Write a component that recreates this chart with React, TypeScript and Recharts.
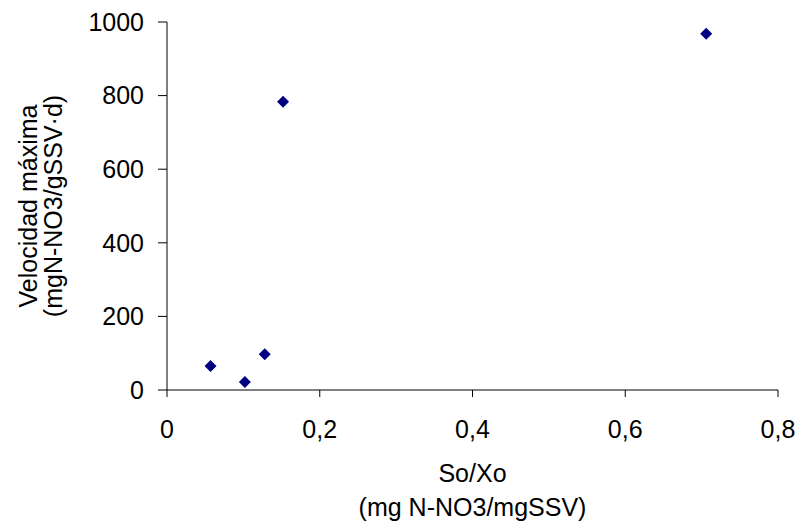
import { ScatterChart, Scatter, XAxis, YAxis, Label } from 'recharts'

const soXo = [0.057, 0.102, 0.128, 0.152, 0.706]
const velocidad = [65, 22, 97, 783, 968]
const xTicks = [0, 0.2, 0.4, 0.6, 0.8]
const yTicks = [0, 200, 400, 600, 800, 1000]

const data = soXo.map((x, i) => ({ x, y: velocidad[i] }))

const font = '"Liberation Sans", Arial, sans-serif'

const Diamond = (props: any) => {
    const { cx, cy } = props
    const r = 6
    return (
        <polygon
            points={`${cx},${cy - r} ${cx + r},${cy} ${cx},${cy + r} ${cx - r},${cy}`}
            fill="#000080"
        />
    )
}

const XTitle = (props: any) => {
    const { x, y, width } = props.viewBox
    const cx = x + width / 2
    return (
        <text textAnchor="middle" fontSize={25} fontFamily={font} fill="#000">
            <tspan x={cx} y={y + 92}>So/Xo</tspan>
            <tspan x={cx} y={y + 126}>(mg N-NO3/mgSSV)</tspan>
        </text>
    )
}

const YTitle = (props: any) => {
    const { y, height } = props.viewBox
    const cy = y + height / 2
    return (
        <text
            textAnchor="middle"
            fontSize={25}
            fontFamily={font}
            fill="#000"
            transform={`rotate(-90 0 ${cy})`}
        >
            <tspan x={0} y={cy + 37}>Velocidad máxima</tspan>
            <tspan x={0} y={cy + 62}>(mgN-NO3/gSSV·d)</tspan>
        </text>
    )
}

export default function App() {
    return (
        <div style={{ position: 'absolute', left: 0, top: 0, background: '#fff' }}>
            <ScatterChart
                width={798}
                height={525}
                margin={{ top: 22, right: 20, bottom: 75, left: 87 }}
            >
                <XAxis
                    type="number"
                    dataKey="x"
                    domain={[0, 0.8]}
                    ticks={xTicks}
                    tickFormatter={(v: number) => String(v).replace('.', ',')}
                    stroke="#000"
                    tickSize={7}
                    tickMargin={23}
                    height={60}
                    tick={{ fill: '#000', fontSize: 25, fontFamily: font }}
                >
                    <Label content={<XTitle />} />
                </XAxis>
                <YAxis
                    type="number"
                    dataKey="y"
                    domain={[0, 1000]}
                    ticks={yTicks}
                    stroke="#000"
                    tickSize={9}
                    tickMargin={14}
                    width={80}
                    tick={{ fill: '#000', fontSize: 25, fontFamily: font }}
                >
                    <Label content={<YTitle />} />
                </YAxis>
                <Scatter data={data} shape={<Diamond />} isAnimationActive={false} />
            </ScatterChart>
        </div>
    )
}
